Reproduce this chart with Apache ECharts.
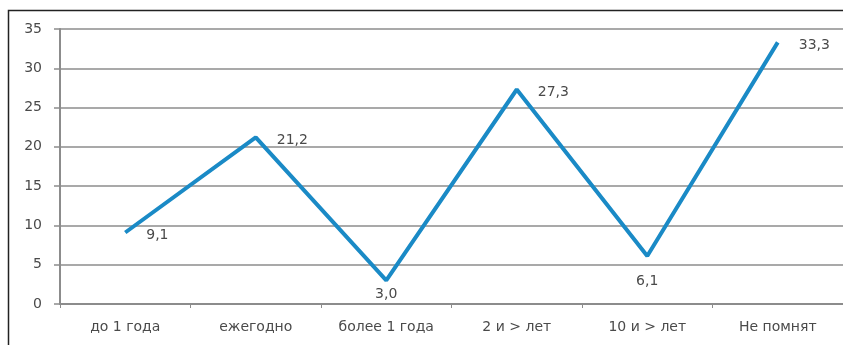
<!DOCTYPE html>
<html>
<head>
<meta charset="utf-8">
<script src="https://cdn.jsdelivr.net/npm/echarts@6/dist/echarts.min.js"></script>
<style>
html, body { margin: 0; padding: 0; background: #fff; }
#chart { width: 843px; height: 345px; }
</style>
</head>
<body>
<div id="chart"></div>
<script>
// категории и значения
var categories = ['до 1 года', 'ежегодно', 'более 1 года', '2 и > лет', '10 и > лет', 'Не помнят'];
var values = [9.1, 21.2, 3.0, 27.3, 6.1, 33.3];
var yTicks = [0, 5, 10, 15, 20, 25, 30, 35];

// где стоит подпись у каждой точки
var labelPlace = ['right', 'right', 'bottom', 'right', 'bottom', 'right'];
var labelGap = [21, 21, 7, 21, 18, 21];

var myChart = echarts.init(document.getElementById('chart'));

var seriesData = values.map(function (v, i) {
	var lbl = { position: labelPlace[i], distance: labelGap[i] };
	if (labelPlace[i] == 'right') { lbl.offset = [0, 3]; }
	return { value: v, label: lbl };
});

myChart.setOption({
	animation: false,
	textStyle: { fontFamily: 'DejaVu Sans, sans-serif' },
	graphic: [{
		type: 'rect',
		shape: { x: 8.5, y: 10.5, width: 860, height: 360 },
		style: { fill: 'none', stroke: '#222', lineWidth: 1.5 },
		silent: true
	}],
	grid: { left: 60, right: -3, top: 29, bottom: 41 },
	xAxis: {
		type: 'category',
		data: categories,
		boundaryGap: true,
		axisLine: { lineStyle: { color: '#8c8c8c', width: 2 } },
		axisTick: { show: true, length: 4, lineStyle: { color: '#8c8c8c' } },
		axisLabel: { color: '#4a4a4a', fontSize: 14, margin: 16 }
	},
	yAxis: {
		type: 'value',
		min: yTicks[0],
		max: yTicks[yTicks.length - 1],
		interval: 5,
		axisLine: { show: true, lineStyle: { color: '#8c8c8c', width: 2 } },
		axisTick: { show: true, length: 6, lineStyle: { color: '#8c8c8c', width: 1.5 } },
		splitLine: { lineStyle: { color: '#8c8c8c', width: 1.5 } },
		axisLabel: { color: '#4a4a4a', fontSize: 14, margin: 18 }
	},
	series: [{
		type: 'line',
		data: seriesData,
		symbol: 'circle',
		symbolSize: 0,
		showSymbol: true,
		itemStyle: { color: '#1a8ac6' },
		lineStyle: { color: '#1a8ac6', width: 4 },
		label: {
			show: true,
			color: '#4a4a4a',
			fontSize: 14,
			formatter: function (p) { return p.value.toFixed(1).replace('.', ','); }
		}
	}]
});
</script>
</body>
</html>
